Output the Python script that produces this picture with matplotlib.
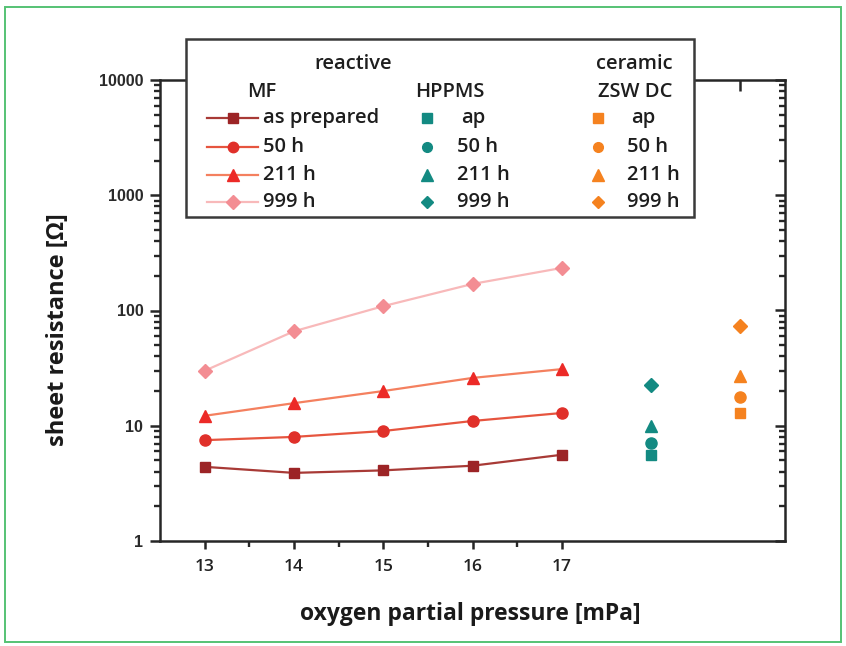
import matplotlib
matplotlib.use("Agg")
import matplotlib.pyplot as plt
from matplotlib.patches import Rectangle
from matplotlib.lines import Line2D
from matplotlib.ticker import NullFormatter

# ---------------- data ----------------
pressure = [13, 14, 15, 16, 17]
mf_ap = [4.4, 3.9, 4.1, 4.5, 5.6]
mf_50 = [7.5, 8.0, 9.0, 11.0, 12.9]
mf_211 = [12.2, 15.7, 20.0, 26.0, 31.0]
mf_999 = [30.0, 66.0, 109.0, 170.0, 234.0]

hppms_x = 18
hppms_vals = [5.6, 7.1, 10.0, 22.6]   # ap, 50 h, 211 h, 999 h
zsw_x = 19
zsw_vals = [12.9, 17.7, 27.0, 73.0]   # ap, 50 h, 211 h, 999 h

x_ticks = [13, 14, 15, 16, 17]
x_minor = [13.5, 14.5, 15.5, 16.5]
y_ticks = [1, 10, 100, 1000, 10000]
y_ticklabels = ["1", "10", "100", "1000", "10000"]
y_minor = [m * 10 ** e for e in range(4) for m in range(2, 10)]

mf_labels = ["as prepared", "50 h", "211 h", "999 h"]
short_labels = ["ap", "50 h", "211 h", "999 h"]

# ---------------- styles ----------------
markers = ["s", "o", "^", "D"]
msizes = [7.5, 8, 9, 7.5]
mf_marker_colors = ["#9c2426", "#e0302a", "#ec2a27", "#f38d93"]
mf_line_colors = ["#a83a36", "#e6553f", "#f4805f", "#f8b9ba"]
teal = "#138a82"
orange = "#f5821f"
spine_c = "#262626"

plt.rcParams['font.family'] = ['Open Sans', 'DejaVu Sans']

fig = plt.figure(figsize=(8.46, 6.46), dpi=100)
W, H = 846, 646
ax = fig.add_axes([160 / W, 105 / H, 625 / W, 461 / H])

mf_series = [mf_ap, mf_50, mf_211, mf_999]
for vals, m, ms, mc, lc in zip(mf_series, markers, msizes, mf_marker_colors, mf_line_colors):
    ax.plot(pressure, vals, color=lc, lw=1.6, marker=m, ms=ms,
            markerfacecolor=mc, markeredgecolor=mc, zorder=3)
for v, m, ms in zip(hppms_vals, markers, msizes):
    ax.plot([hppms_x], [v], ls="none", marker=m, ms=ms, color=teal, zorder=3)
for v, m, ms in zip(zsw_vals, markers, msizes):
    ax.plot([zsw_x], [v], ls="none", marker=m, ms=ms, color=orange, zorder=3)

ax.set_yscale("log")
ax.set_ylim(1, 10000)
ax.set_xlim(12.5, 19.5)

# twin axes for the mirrored (inward) ticks on the right and top
axr = ax.twinx()
axr.set_yscale("log")
axr.set_ylim(1, 10000)
axt = ax.twiny()
axt.set_xlim(12.5, 19.5)

for s in ax.spines.values():
    s.set_linewidth(1.8)
    s.set_color(spine_c)
for a in (axr, axt):
    for s in a.spines.values():
        s.set_visible(False)

ax.set_yticks(y_ticks, y_ticklabels)
ax.set_yticks(y_minor, minor=True)
ax.yaxis.set_minor_formatter(NullFormatter())
ax.tick_params(axis="y", which="major", direction="out", length=7.5, width=1.8,
               color=spine_c, pad=4.5, labelsize=11.5, labelcolor="#2a2a2a")
ax.tick_params(axis="y", which="minor", direction="out", length=4.5, width=1.7,
               color=spine_c, left=True)
for lab in ax.get_yticklabels():
    lab.set_family(["Liberation Sans", "DejaVu Sans"])
    lab.set_weight("bold")

ax.set_xticks(x_ticks)
ax.set_xticks(x_minor, minor=True)
ax.tick_params(axis="x", which="major", direction="out", length=6, width=1.8,
               color=spine_c, pad=7, labelsize=12.5, labelcolor="#222222")
ax.tick_params(axis="x", which="minor", direction="out", length=4.5, width=1.7,
               color=spine_c, bottom=True)
for lab in ax.get_xticklabels():
    lab.set_weight("semibold")

axr.set_yticks(y_ticks, [""] * len(y_ticks))
axr.set_yticks(y_minor, minor=True)
axr.yaxis.set_minor_formatter(NullFormatter())
axr.tick_params(axis="y", which="major", direction="in", length=7, width=1.8, color=spine_c)
axr.tick_params(axis="y", which="minor", direction="in", length=4.5, width=1.7,
                color=spine_c, right=True)

axt.set_xticks([zsw_x], [""])
axt.set_xticks([], minor=True)
axt.tick_params(axis="x", which="major", direction="in", length=8, width=1.8, color=spine_c)

ax.set_xlabel("oxygen partial pressure [mPa]", fontsize=16.5, fontweight="bold", color="#1a1a1a")
ax.xaxis.set_label_coords(0.497, -0.133)
ax.set_ylabel("sheet resistance [Ω]", fontsize=17, fontweight="bold", color="#1a1a1a")
ax.yaxis.set_label_coords(-0.144, 0.458)

# ---------------- overlay: legend box and frame ----------------
ov = fig.add_axes([0, 0, 1, 1], zorder=10)
ov.set_xlim(0, W)
ov.set_ylim(H, 0)
ov.axis("off")
ov.patch.set_visible(False)

ov.add_patch(Rectangle((4.5, 7), 836, 635, fill=False, ec="#55c274", lw=1.4))
ov.add_patch(Rectangle((186, 39), 508, 178, fc="white", ec="#3a3a3a", lw=1.8))

ft = dict(fontsize=14.5, fontweight="semibold", color="#1e1e1e", va="center")
ov.text(353, 64, "reactive", ha="center", **ft)
ov.text(673, 64, "ceramic", ha="right", **ft)
ov.text(262, 92, "MF", ha="center", **ft)
ov.text(450, 92, "HPPMS", ha="center", **ft)
ov.text(635, 92, "ZSW DC", ha="center", **ft)

rows = [118, 147, 175, 202]
for i, y in enumerate(rows):
    ov.add_line(Line2D([207, 258], [y, y], color=mf_line_colors[i], lw=1.6))
    ov.add_line(Line2D([233], [y], ls="none", marker=markers[i], ms=msizes[i] - 0.5,
                       color=mf_marker_colors[i]))
    ov.text(263, y, mf_labels[i], ha="left", **ft)
    ov.add_line(Line2D([427], [y], ls="none", marker=markers[i], ms=msizes[i] - 1, color=teal))
    ov.text(461 if i == 0 else 457, y, short_labels[i], ha="left", **ft)
    ov.add_line(Line2D([598], [y], ls="none", marker=markers[i], ms=msizes[i] - 1, color=orange))
    ov.text(631 if i == 0 else 627, y, short_labels[i], ha="left", **ft)

fig.savefig("out.png", dpi=100)
